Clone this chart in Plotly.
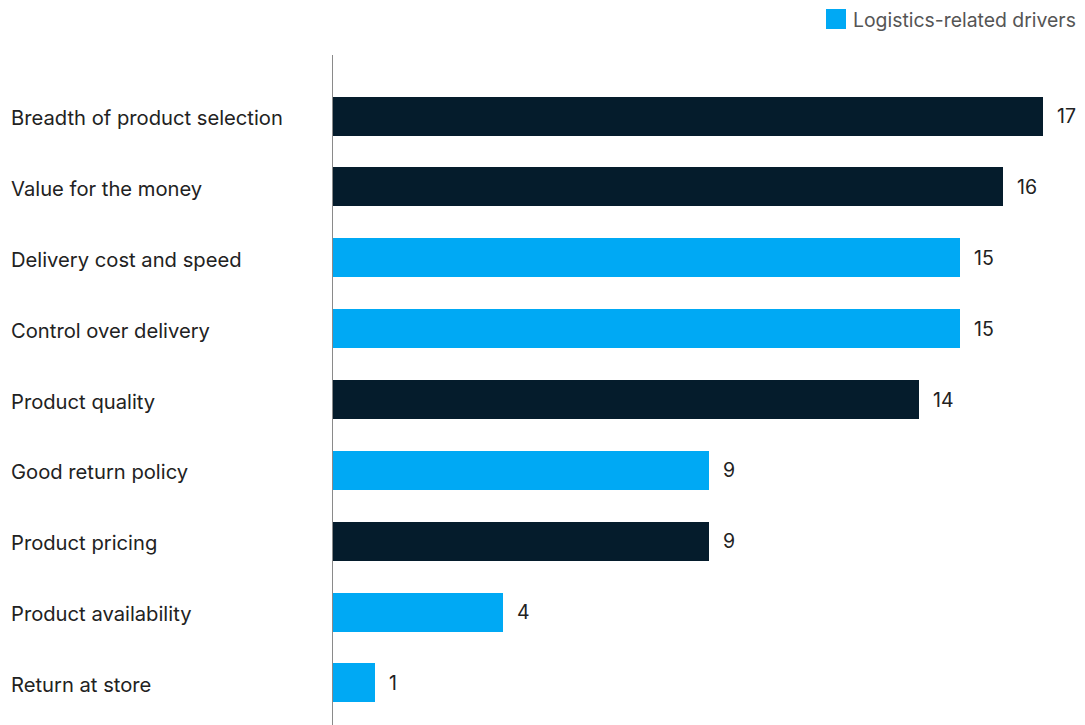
import plotly.graph_objects as go

categories = ["Breadth of product selection", "Value for the money", "Delivery cost and speed",
              "Control over delivery", "Product quality", "Good return policy",
              "Product pricing", "Product availability", "Return at store"]
values = [17.0, 16.04, 15.0, 15.0, 14.03, 9.0, 9.0, 4.06, 1.01]
logistics = [False, False, True, True, False, True, False, True, True]
legend_label = "Logistics-related drivers"

DARK = "#051C2C"
LIGHT = "#00A9F4"
FONT = "Inter"

pos = list(range(len(categories)))
fig = go.Figure()
for flag, color, name in [(False, DARK, "Other drivers"), (True, LIGHT, legend_label)]:
    ys = [p for p, f in zip(pos, logistics) if f == flag]
    xs = [v for v, f in zip(values, logistics) if f == flag]
    fig.add_trace(go.Bar(x=xs, y=ys, orientation="h", marker=dict(color=color, line=dict(width=0)),
                         width=0.55, name=name, showlegend=False, hoverinfo="skip"))

for p, v in zip(pos, values):
    fig.add_annotation(x=v, y=p, xref="x", yref="y", text=f"{round(v)}", showarrow=False,
                       xanchor="left", xshift=12, yshift=0,
                       font=dict(family=FONT, size=19.5, color="#222222"))
for p, c in zip(pos, categories):
    fig.add_annotation(x=-0.431, y=p, xref="paper", yref="y", text=c, showarrow=False,
                       xanchor="left", yshift=-1.5, font=dict(family=FONT, size=20.2, color="#222222"))

# legend
fig.add_shape(type="rect", xref="paper", yref="paper", x0=(826-333)/752, x1=(846-333)/752,
              y0=1 + (55-29)/670, y1=1 + (55-9)/670, fillcolor=LIGHT, line=dict(width=0))
fig.add_annotation(x=(851-333)/752, y=1 + (55-20)/670, xref="paper", yref="paper",
                   text=legend_label, showarrow=False, xanchor="left", yanchor="middle",
                   font=dict(family=FONT, size=19.4, color="#555555"))

fig.update_layout(
    width=1085, height=725, margin=dict(l=333, r=0, t=55, b=0),
    plot_bgcolor="white", paper_bgcolor="white", bargap=0,
    xaxis=dict(range=[0, 18], visible=False, showgrid=False, zeroline=False),
    yaxis=dict(range=[8.593, -0.861], showticklabels=False, showgrid=False, zeroline=False,
               showline=True, linecolor="#8a8a8a", linewidth=1, ticks=""),
)
fig.write_html("out.html")
